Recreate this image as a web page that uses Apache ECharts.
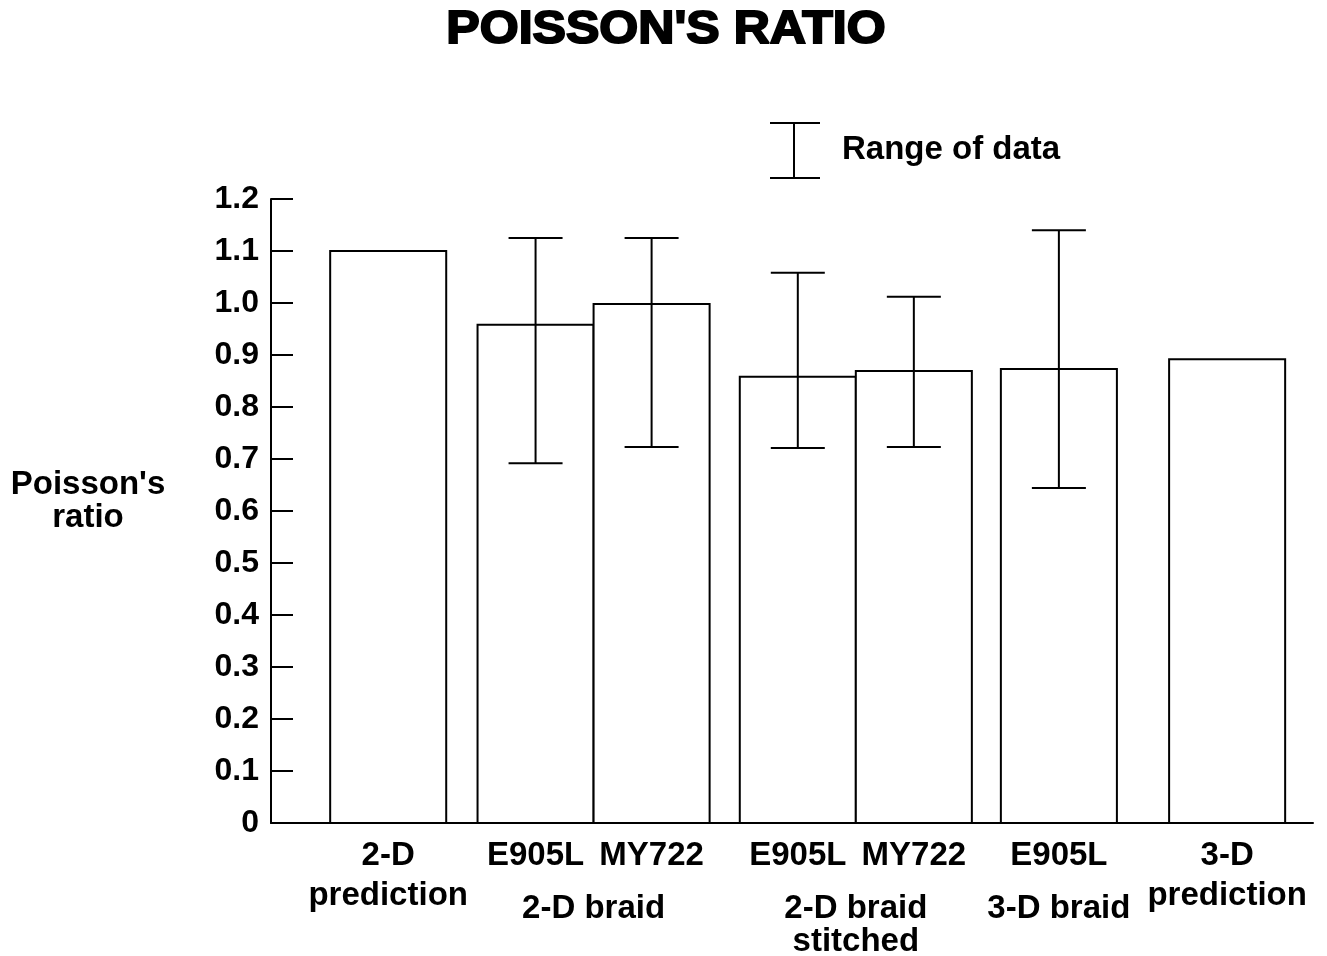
<!DOCTYPE html>
<html>
<head>
<meta charset="utf-8">
<script src="https://cdn.jsdelivr.net/npm/echarts@6/dist/echarts.min.js"></script>
<style>html,body{margin:0;padding:0;background:#fff}#c{width:1327px;height:956px}</style>
</head>
<body>
<div id="c"></div>
<script>
// ---- data ----
const categories = ['2-D\nprediction', 'E905L', 'MY722', 'E905L', 'MY722', 'E905L', '3-D\nprediction'];
const values     = [1.10, 0.958, 0.998, 0.858, 0.869, 0.873, 0.892];
const rangeLow   = [null, 0.692, 0.723, 0.721, 0.723, 0.644, null];
const rangeHigh  = [null, 1.125, 1.125, 1.058, 1.012, 1.140, null];
const groupNames = ['2-D braid', '2-D braid\nstitched', '3-D braid'];
const groupOf    = [-1, 0, 0, 1, 1, 2, -1];
const yTicks     = [0, 0.1, 0.2, 0.3, 0.4, 0.5, 0.6, 0.7, 0.8, 0.9, 1.0, 1.1, 1.2];

// ---- layout (slot centres in bar-width units) ----
const slotPos = [1.01, 2.28, 3.28, 4.54, 5.54, 6.79, 8.24];
const xMax = 8.98;

const FONT = 'Liberation Sans, Arial, Helvetica, sans-serif';

const barData = slotPos.map((x, i) => [x, values[i]]);
const errData = [];
slotPos.forEach((x, i) => { if (rangeLow[i] != null) errData.push([x, rangeLow[i], rangeHigh[i]]); });
const labelData = slotPos.map((x, i) => [x, 0, i]);
const groupData = groupNames.map((g, gi) => {
  const xs = slotPos.filter((x, i) => groupOf[i] === gi);
  return [xs.reduce((a, b) => a + b, 0) / xs.length, 0, gi];
});

const chart = echarts.init(document.getElementById('c'));
chart.setOption({
  backgroundColor: '#fff',
  animation: false,
  grid: { left: 271, right: 14, top: 199, bottom: 133, containLabel: false },
  xAxis: {
    type: 'value', min: 0, max: xMax,
    axisLine: { show: true, onZero: false, lineStyle: { color: '#000', width: 2 } },
    axisTick: { show: false }, axisLabel: { show: false }, splitLine: { show: false }
  },
  yAxis: {
    type: 'value', min: 0, max: 1.2, interval: 0.1,
    axisLine: { show: true, lineStyle: { color: '#000', width: 2 } },
    axisTick: { show: true, inside: true, length: 22, lineStyle: { color: '#000', width: 2 } },
    splitLine: { show: false },
    axisLabel: {
      color: '#000', fontFamily: FONT, fontWeight: 'bold', fontSize: 32, margin: 12,
      formatter: v => {
        const t = yTicks.find(k => Math.abs(k - v) < 1e-6);
        if (t === undefined) return '';
        return t === 0 ? '0' : t.toFixed(1);
      }
    }
  },
  graphic: [
    { type: 'text', x: 666, y: 30, z: 10, scaleX: 1.065,
      style: { text: "POISSON'S RATIO", font: 'bold 47px ' + FONT, fill: '#000', stroke: '#000', lineWidth: 2,
               align: 'center', verticalAlign: 'middle' } },
    { type: 'text', x: 88, y: 501, z: 10,
      style: { text: "Poisson's\nratio", font: 'bold 33px ' + FONT, fill: '#000', align: 'center', verticalAlign: 'middle', lineHeight: 33 } },
    { type: 'line', shape: { x1: 770, y1: 123, x2: 820, y2: 123 }, style: { stroke: '#000', lineWidth: 2 } },
    { type: 'line', shape: { x1: 770, y1: 178, x2: 820, y2: 178 }, style: { stroke: '#000', lineWidth: 2 } },
    { type: 'line', shape: { x1: 794, y1: 123, x2: 794, y2: 178 }, style: { stroke: '#000', lineWidth: 2 } },
    { type: 'text', x: 842, y: 150,
      style: { text: 'Range of data', font: 'bold 33px ' + FONT, fill: '#000', align: 'left', verticalAlign: 'middle' } }
  ],
  series: [
    {
      type: 'custom', data: barData, clip: false,
      renderItem: (params, api) => {
        const x = api.value(0), v = api.value(1);
        const tl = api.coord([x - 0.5, v]);
        const br = api.coord([x + 0.5, 0]);
        return { type: 'rect', shape: { x: tl[0], y: tl[1], width: br[0] - tl[0], height: br[1] - tl[1] },
                 style: { fill: '#fff', stroke: '#000', lineWidth: 2 } };
      }
    },
    {
      type: 'custom', data: errData, clip: false, z: 3,
      renderItem: (params, api) => {
        const x = api.value(0);
        const lo = api.coord([x, api.value(1)]);
        const hi = api.coord([x, api.value(2)]);
        const hw = 27;
        const s = { stroke: '#000', lineWidth: 2 };
        return { type: 'group', children: [
          { type: 'line', shape: { x1: lo[0], y1: lo[1], x2: hi[0], y2: hi[1] }, style: s },
          { type: 'line', shape: { x1: lo[0] - hw, y1: lo[1], x2: lo[0] + hw, y2: lo[1] }, style: s },
          { type: 'line', shape: { x1: hi[0] - hw, y1: hi[1], x2: hi[0] + hw, y2: hi[1] }, style: s }
        ] };
      }
    },
    {
      type: 'custom', data: labelData, clip: false,
      renderItem: (params, api) => {
        const p = api.coord([api.value(0), 0]);
        return { type: 'text', x: p[0], y: p[1] + 13,
                 style: { text: categories[api.value(2)], font: 'bold 33px ' + FONT, fill: '#000',
                          align: 'center', verticalAlign: 'top', lineHeight: 40 } };
      }
    },
    {
      type: 'custom', data: groupData, clip: false,
      renderItem: (params, api) => {
        const p = api.coord([api.value(0), 0]);
        return { type: 'text', x: p[0], y: p[1] + 69,
                 style: { text: groupNames[api.value(2)], font: 'bold 33px ' + FONT, fill: '#000',
                          align: 'center', verticalAlign: 'top', lineHeight: 33 } };
      }
    }
  ]
});
</script>
</body>
</html>
